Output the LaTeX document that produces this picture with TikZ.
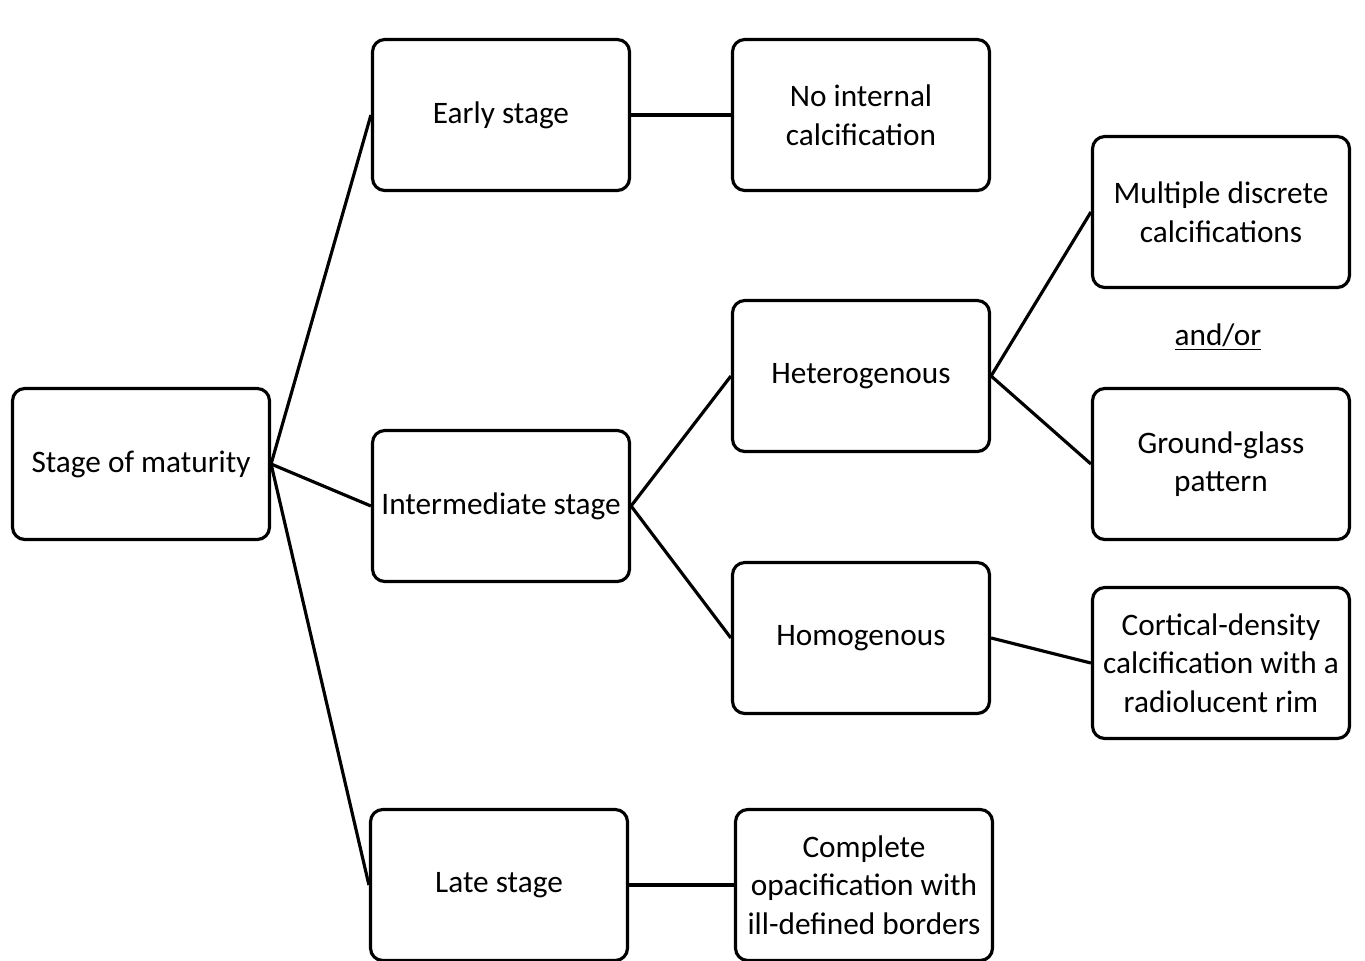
\documentclass[tikz,border=0pt]{standalone}
\usepackage{xcolor}
\usepackage{fontspec}
\setmainfont{Carlito}

\begin{document}
\begin{tikzpicture}[box/.style = {draw, rounded corners=7pt, line width=1.8pt, minimum width=5.14cm, minimum height=3.02cm, align=center, inner sep=2pt, font=\fontsize{17.8}{22}\selectfont}]
\useasboundingbox (0,0) rectangle (27.3,-19.22);
\node (mat) at (2.82,-9.28) [box] {Stage of maturity};
\node (early) at (10.02,-2.30) [box] {Early stage};
\node (inter) at (10.02,-10.12) [box] {Intermediate stage};
\node (late) at (9.98,-17.70) [box] {Late stage};
\node (noint) at (17.22,-2.30) [box] {No internal\\calcification};
\node (het) at (17.22,-7.52) [box] {Heterogenous};
\node (hom) at (17.22,-12.76) [box] {Homogenous};
\node (comp) at (17.28,-17.70) [box] {Complete\\opacification with\\ill-defined borders};
\node (mult) at (24.42,-4.24) [box] {Multiple discrete\\calcifications};
\node (andor) at (24.36,-6.74) [font=\fontsize{17.8}{22}\selectfont] {\underline{and/or}};
\node (ground) at (24.42,-9.28) [box] {Ground-glass\\pattern};
\node (cort) at (24.42,-13.26) [box] {Cortical-density\\calcification with a\\radiolucent rim};

\draw[line width=1.8pt] (mat.east) -- (early.west);
\draw[line width=1.8pt] (mat.east) -- (inter.west);
\draw[line width=1.8pt] (mat.east) -- (late.west);
\draw[line width=1.8pt] (early) -- (noint);
\draw[line width=1.8pt] (inter.east) -- (het.west);
\draw[line width=1.8pt] (inter.east) -- (hom.west);
\draw[line width=1.8pt] (het.east) -- (mult.west);
\draw[line width=1.8pt] (het.east) -- (ground.west);
\draw[line width=1.8pt] (hom.east) -- (cort.west);
\draw[line width=1.8pt] (late) -- (comp);
\end{tikzpicture}
\end{document}
